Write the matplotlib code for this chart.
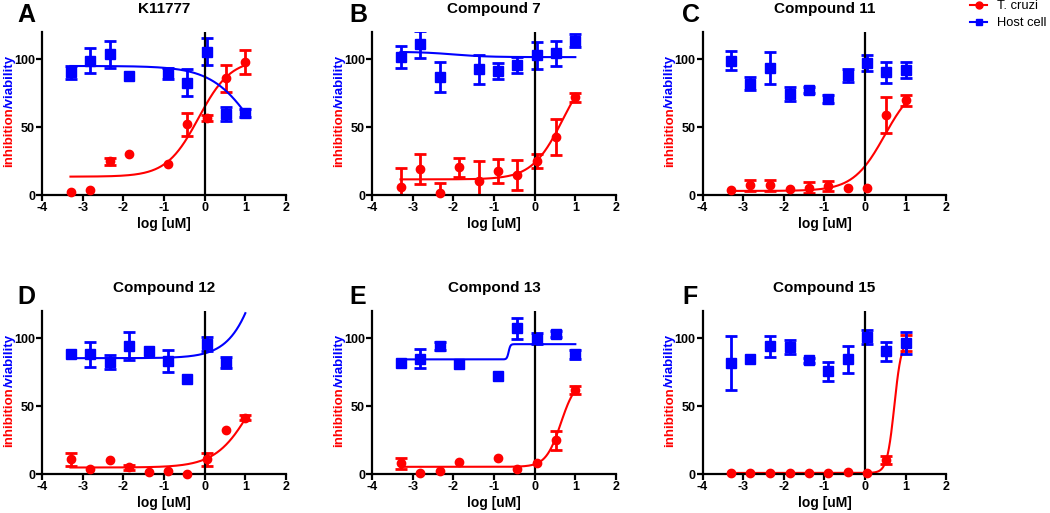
import numpy as np
import matplotlib.pyplot as plt
from matplotlib.lines import Line2D

plt.rcParams['font.family'] = ['Liberation Sans', 'DejaVu Sans']
plt.rcParams['axes.unicode_minus'] = False

nan = np.nan

# log10 of the concentrations (uM), 3-fold dilution from 10 uM
log_um = [-3.29, -2.82, -2.34, -1.86, -1.38, -0.91, -0.43, 0.05, 0.52, 1.0]

letters = ["A", "B", "C", "D", "E", "F"]
titles = ["K11777", "Compound 7", "Compound 11", "Compound 12", "Compond 13", "Compound 15"]

# T. cruzi inhibition (%) per panel, and error bars
tcruzi_y = [
    [2.5, 3.9, 24.8, 30.1, nan, 22.5, 52.0, 56.9, 86.0, 97.8],
    [5.9, 19.3, 1.2, 20.5, 10.3, 17.6, 14.7, 25.0, 42.8, 71.9],
    [3.7, 7.1, 7.1, 4.7, 5.4, 6.6, 5.2, 5.2, 59.0, 69.8],
    [11.0, 3.9, 10.3, 5.1, 1.7, 2.2, 0.0, 11.0, 32.6, 41.7],
    [8.1, 0.7, 2.7, 9.3, nan, 11.8, 3.7, 8.6, 25.0, 61.8],
    [0.7, 1.2, 1.2, 1.0, 1.0, 1.0, 2.0, 1.2, 10.8, 96.8],
]
tcruzi_err = [
    [nan, nan, 2.7, nan, nan, nan, 8.3, 2.3, 10.0, 9.0],
    [14.0, 11.0, 8.0, 7.0, 15.0, 9.0, 11.0, 5.0, 13.0, 3.5],
    [nan, 4.0, 4.0, nan, 4.0, 4.0, nan, nan, 13.0, 4.0],
    [5.0, nan, nan, 2.0, nan, nan, nan, 5.0, nan, 2.0],
    [4.0, nan, nan, nan, nan, nan, nan, nan, 7.0, 3.0],
    [nan, nan, nan, nan, nan, nan, nan, nan, 3.0, 6.0],
]

# Host cell viability (%) per panel, and error bars
host_y = [
    [90.2, 99.0, 103.7, 87.7, nan, 89.5, 82.8, 105.6, 59.8, 60.5],
    [101.5, 111.0, 87.0, nan, 92.4, 91.2, 95.8, 103.0, 104.2, 113.7],
    [98.8, 82.0, 93.4, 74.2, 77.4, 70.8, 88.0, 97.0, 90.2, 91.9],
    [88.2, 88.2, 82.8, 94.4, 90.7, 83.6, 70.3, 95.8, 82.1, nan],
    [82.1, 85.0, 94.4, 80.9, nan, 72.5, 107.4, 99.8, 103.4, 88.2],
    [82.1, 84.6, 94.1, 93.9, 83.8, 76.0, 84.6, 101.0, 90.7, 96.8],
]
host_err = [
    [5.0, 9.0, 10.0, nan, nan, 4.0, 10.0, 10.0, 5.0, 3.0],
    [8.0, 10.0, 11.0, nan, 11.0, 6.0, 6.0, 10.0, 9.0, 5.0],
    [7.0, 5.0, 12.0, 5.0, 2.0, 3.0, 5.0, 6.0, 8.0, 6.0],
    [nan, 9.0, 5.0, 10.0, nan, 8.0, nan, 5.0, 4.0, nan],
    [nan, 7.0, 3.0, nan, nan, nan, 8.0, 4.0, 2.0, 3.0],
    [20.0, nan, 8.0, 5.0, 2.0, 7.0, 10.0, 5.0, 7.0, 8.0],
]

# fitted curves: (left plateau, right plateau, logEC50, hill); None = no fit shown
tcruzi_fit = [
    (13.5, 100.0, -0.15, 1.1),
    (11.5, 100.0, 0.695, 1.145),
    (3.0, 85.0, 0.481, 1.12),
    (5.0, 100.0, 1.225, 0.956),
    (5.5, 70.0, 0.645, 2.35),
    (1.0, 100.0, 0.717, 4.86),
]
host_fit = [
    (95.0, 0.0, 1.3, 0.8),
    (105.5, 101.5, -2.0, 1.0),
    None,
    (85.5, 300.0, 1.71, 1.04),
    (84.6, 95.8, -0.64, 20.0),
    None,
]

RED = "#ff0000"
BLUE = "#0000ff"

fig = plt.figure(figsize=(10.5, 5.13), dpi=100)

lefts = [42 / 1050, 372 / 1050, 702.5 / 1050]
bottoms = [318 / 513, 38.7 / 513]
w, h = 244 / 1050, 163 / 513
letter_x = [17 / 1050, 349 / 1050, 682 / 1050]
letter_y = [1 - 15.5 / 513, 1 - 297.5 / 513]

xfit = np.linspace(-3.3, 1.0, 300)


def curve(p, x):
    lo, hi, ec, hill = p
    return lo + (hi - lo) / (1 + 10 ** ((ec - x) * hill))


for i in range(6):
    ax = fig.add_axes([lefts[i % 3], bottoms[i // 3], w, h])
    x = np.array(log_um)

    # T. cruzi
    ax.errorbar(x, tcruzi_y[i], yerr=tcruzi_err[i], fmt='none', ecolor=RED,
                elinewidth=2, capsize=4.5, capthick=2)
    ax.plot(x, tcruzi_y[i], 'o', color=RED, ms=6, clip_on=False, zorder=4)
    ax.plot(xfit, curve(tcruzi_fit[i], xfit), color=RED, lw=1.5)

    # host cell
    ax.errorbar(x, host_y[i], yerr=host_err[i], fmt='none', ecolor=BLUE,
                elinewidth=2, capsize=4.5, capthick=2)
    ax.plot(x, host_y[i], 's', color=BLUE, ms=6.5, clip_on=False, zorder=4)
    if host_fit[i] is not None:
        ax.plot(xfit, curve(host_fit[i], xfit), color=BLUE, lw=1.5)

    ax.axvline(0, color='black', lw=1.6, zorder=3)

    ax.set_xlim(-4, 2)
    ax.set_ylim(0, 120)
    ax.set_xticks([-4, -3, -2, -1, 0, 1, 2])
    ax.set_yticks([0, 50, 100])
    for s in ['top', 'right']:
        ax.spines[s].set_visible(False)
    for s in ['left', 'bottom']:
        ax.spines[s].set_linewidth(1.6)
    ax.tick_params(width=1.6, length=4, pad=1, labelsize=9)
    for lab in ax.get_xticklabels() + ax.get_yticklabels():
        lab.set_fontweight('bold')

    ax.set_xlabel("log [uM]", fontsize=10, fontweight='bold', labelpad=2)
    ax.set_title(titles[i], fontsize=11, fontweight='bold', pad=14)

    t1 = ax.text(-0.158, 0.17, "inhibition", color=RED, fontsize=9.5, fontweight='bold',
                 rotation=90, ha='left', va='bottom', transform=ax.transAxes)
    ax.annotate("/viability", xy=(0, 1), xycoords=t1, color=BLUE, fontsize=9.5,
                fontweight='bold', rotation=90, ha='left', va='bottom')

    fig.text(letter_x[i % 3], letter_y[i // 3], letters[i], fontsize=18,
             fontweight='bold', ha='left', va='center')

handles = [
    Line2D([], [], color=RED, marker='o', ms=5, lw=1.5),
    Line2D([], [], color=BLUE, marker='s', ms=5, lw=1.5),
]
fig.legend(handles, ["T. cruzi", "Host cell"], loc='upper left',
           bbox_to_anchor=(0.924, 1.0), frameon=False, fontsize=9.3,
           handlelength=1.3, handletextpad=0.75, labelspacing=0.4,
           borderpad=0, borderaxespad=0)

fig.savefig("out.png", dpi=100)
